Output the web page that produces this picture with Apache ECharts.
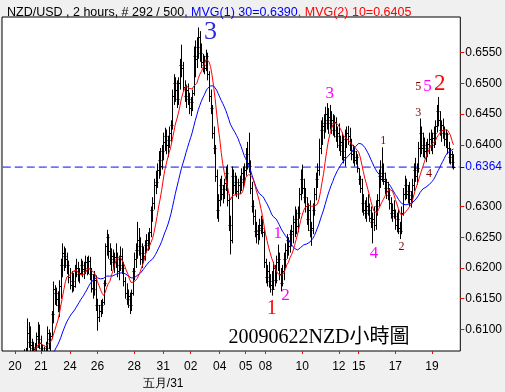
<!DOCTYPE html>
<html><head><meta charset="utf-8">
<script src="https://cdn.jsdelivr.net/npm/echarts@6/dist/echarts.min.js"></script>
<style>html,body{margin:0;padding:0;background:#f0f0f0}#c{width:505px;height:392px}</style>
</head><body><div id="c"></div>
<script>
// ---- data (NZD/USD 2-hour bars) ----
const high = [0.6007,0.6012,0.6004,0.5998,0.6008,0.6018,0.6014,0.6022,0.6028,0.6022,
0.6034,0.6044,0.6048,0.6058,0.6068,0.6070,0.6118,0.6112,0.6105,0.6085,
0.6080,0.6078,0.6095,0.6112,0.6108,0.6090,0.6075,0.6072,0.6080,0.6105,
0.6100,0.6095,0.6130,0.6178,0.6172,0.6168,0.6162,0.6180,0.6215,0.6240,
0.6235,0.6232,0.6225,0.6212,0.6200,0.6195,0.6192,0.6205,0.6215,0.6210,
0.6200,0.6215,0.6212,0.6210,0.6220,0.6218,0.6220,0.6218,0.6200,0.6190,
0.6195,0.6188,0.6150,0.6140,0.6148,0.6150,0.6180,0.6240,0.6262,0.6255,
0.6240,0.6232,0.6230,0.6225,0.6240,0.6225,0.6220,0.6235,0.6232,0.6210,
0.6185,0.6175,0.6165,0.6160,0.6165,0.6200,0.6225,0.6240,0.6275,0.6265,
0.6250,0.6240,0.6235,0.6245,0.6255,0.6258,0.6265,0.6300,0.6315,0.6345,
0.6358,0.6370,0.6390,0.6395,0.6400,0.6420,0.6428,0.6425,0.6415,0.6430,
0.6440,0.6490,0.6515,0.6510,0.6505,0.6510,0.6540,0.6563,0.6535,0.6505,
0.6498,0.6500,0.6485,0.6478,0.6490,0.6560,0.6570,0.6575,0.6591,0.6585,
0.6565,0.6548,0.6545,0.6555,0.6550,0.6520,0.6490,0.6465,0.6430,0.6400,
0.6360,0.6320,0.6345,0.6350,0.6335,0.6345,0.6365,0.6368,0.6320,0.6285,
0.6365,0.6360,0.6355,0.6350,0.6345,0.6350,0.6362,0.6365,0.6370,0.6395,
0.6405,0.6420,0.6375,0.6340,0.6310,0.6295,0.6275,0.6270,0.6280,0.6285,
0.6280,0.6262,0.6215,0.6205,0.6210,0.6190,0.6195,0.6210,0.6205,0.6220,
0.6238,0.6225,0.6200,0.6205,0.6225,0.6240,0.6255,0.6250,0.6262,0.6270,
0.6285,0.6300,0.6295,0.6300,0.6330,0.6360,0.6368,0.6345,0.6330,0.6315,
0.6305,0.6310,0.6275,0.6305,0.6330,0.6355,0.6370,0.6410,0.6440,0.6445,
0.6450,0.6462,0.6468,0.6460,0.6465,0.6455,0.6450,0.6448,0.6445,0.6430,
0.6435,0.6415,0.6420,0.6415,0.6425,0.6430,0.6431,0.6428,0.6410,0.6400,
0.6398,0.6390,0.6385,0.6362,0.6350,0.6345,0.6320,0.6310,0.6315,0.6320,
0.6305,0.6300,0.6290,0.6300,0.6310,0.6320,0.6360,0.6375,0.6396,0.6370,
0.6355,0.6345,0.6340,0.6330,0.6315,0.6305,0.6310,0.6295,0.6290,0.6295,
0.6275,0.6300,0.6330,0.6350,0.6345,0.6335,0.6340,0.6325,0.6345,0.6370,
0.6379,0.6370,0.6405,0.6443,0.6430,0.6420,0.6412,0.6405,0.6410,0.6420,
0.6425,0.6420,0.6430,0.6440,0.6465,0.6478,0.6455,0.6440,0.6443,0.6430,
0.6425,0.6420,0.6405,0.6395,0.6390,0.6385];

const low = [0.5985,0.5990,0.5980,0.5975,0.5985,0.5995,0.5990,0.6000,0.6005,0.5998,
0.6010,0.6020,0.6025,0.6035,0.6040,0.6050,0.6060,0.6070,0.6062,0.6062,
0.6060,0.6058,0.6065,0.6070,0.6068,0.6060,0.6055,0.6052,0.6055,0.6060,
0.6068,0.6065,0.6085,0.6110,0.6140,0.6138,0.6128,0.6120,0.6150,0.6185,
0.6195,0.6200,0.6190,0.6175,0.6165,0.6160,0.6162,0.6168,0.6185,0.6178,
0.6175,0.6188,0.6185,0.6182,0.6190,0.6188,0.6190,0.6180,0.6160,0.6150,
0.6155,0.6130,0.6098,0.6112,0.6120,0.6125,0.6140,0.6170,0.6220,0.6215,
0.6205,0.6195,0.6200,0.6192,0.6200,0.6185,0.6180,0.6195,0.6190,0.6170,
0.6150,0.6140,0.6135,0.6125,0.6130,0.6155,0.6180,0.6200,0.6215,0.6220,
0.6205,0.6200,0.6208,0.6212,0.6225,0.6228,0.6230,0.6250,0.6275,0.6295,
0.6320,0.6330,0.6345,0.6350,0.6360,0.6375,0.6390,0.6385,0.6380,0.6395,
0.6405,0.6425,0.6465,0.6470,0.6460,0.6465,0.6490,0.6510,0.6488,0.6470,
0.6460,0.6465,0.6450,0.6447,0.6455,0.6480,0.6510,0.6525,0.6540,0.6535,
0.6525,0.6518,0.6515,0.6520,0.6505,0.6470,0.6450,0.6410,0.6385,0.6340,
0.6280,0.6275,0.6300,0.6310,0.6305,0.6312,0.6325,0.6300,0.6260,0.6222,
0.6240,0.6320,0.6318,0.6315,0.6312,0.6320,0.6325,0.6330,0.6335,0.6350,
0.6360,0.6355,0.6320,0.6290,0.6270,0.6250,0.6240,0.6238,0.6245,0.6255,
0.6250,0.6200,0.6175,0.6170,0.6168,0.6160,0.6155,0.6165,0.6170,0.6175,
0.6195,0.6180,0.6162,0.6170,0.6180,0.6200,0.6215,0.6220,0.6225,0.6235,
0.6240,0.6250,0.6255,0.6258,0.6280,0.6310,0.6320,0.6305,0.6290,0.6270,
0.6260,0.6250,0.6236,0.6255,0.6285,0.6310,0.6330,0.6350,0.6385,0.6400,
0.6410,0.6420,0.6425,0.6418,0.6425,0.6418,0.6415,0.6412,0.6405,0.6395,
0.6390,0.6382,0.6375,0.6370,0.6365,0.6395,0.6400,0.6390,0.6375,0.6370,
0.6365,0.6368,0.6355,0.6335,0.6322,0.6290,0.6285,0.6280,0.6275,0.6285,
0.6275,0.6265,0.6240,0.6260,0.6262,0.6285,0.6300,0.6330,0.6340,0.6335,
0.6320,0.6312,0.6310,0.6295,0.6280,0.6275,0.6280,0.6262,0.6258,0.6255,
0.6247,0.6255,0.6285,0.6310,0.6312,0.6305,0.6300,0.6298,0.6305,0.6325,
0.6340,0.6335,0.6355,0.6380,0.6385,0.6380,0.6378,0.6372,0.6380,0.6385,
0.6390,0.6385,0.6395,0.6400,0.6420,0.6430,0.6415,0.6405,0.6410,0.6398,
0.6395,0.6385,0.6370,0.6368,0.6362,0.6360];

const close = [0.5995,0.6000,0.5990,0.5985,0.5995,0.6005,0.6000,0.6010,0.6015,0.6008,
0.6020,0.6030,0.6035,0.6045,0.6050,0.6062,0.6095,0.6080,0.6075,0.6070,
0.6068,0.6072,0.6090,0.6085,0.6078,0.6070,0.6062,0.6060,0.6070,0.6095,
0.6085,0.6090,0.6125,0.6165,0.6160,0.6150,0.6140,0.6170,0.6205,0.6225,
0.6220,0.6215,0.6205,0.6185,0.6172,0.6178,0.6170,0.6195,0.6200,0.6190,
0.6192,0.6205,0.6198,0.6195,0.6210,0.6200,0.6212,0.6190,0.6168,0.6165,
0.6180,0.6140,0.6120,0.6130,0.6140,0.6145,0.6175,0.6235,0.6250,0.6228,
0.6215,0.6220,0.6210,0.6218,0.6215,0.6195,0.6205,0.6220,0.6200,0.6178,
0.6160,0.6150,0.6155,0.6140,0.6160,0.6195,0.6215,0.6230,0.6245,0.6235,
0.6215,0.6225,0.6220,0.6238,0.6245,0.6240,0.6258,0.6295,0.6305,0.6335,
0.6340,0.6360,0.6375,0.6365,0.6390,0.6405,0.6415,0.6400,0.6408,0.6420,
0.6432,0.6480,0.6500,0.6490,0.6475,0.6500,0.6530,0.6525,0.6495,0.6480,
0.6490,0.6475,0.6460,0.6470,0.6485,0.6545,0.6540,0.6560,0.6575,0.6550,
0.6535,0.6530,0.6525,0.6545,0.6515,0.6480,0.6460,0.6420,0.6395,0.6350,
0.6295,0.6310,0.6335,0.6320,0.6328,0.6338,0.6355,0.6310,0.6270,0.6245,
0.6350,0.6335,0.6340,0.6325,0.6335,0.6340,0.6355,0.6345,0.6360,0.6385,
0.6370,0.6365,0.6330,0.6300,0.6285,0.6260,0.6255,0.6262,0.6270,0.6265,
0.6258,0.6210,0.6185,0.6195,0.6178,0.6172,0.6165,0.6200,0.6180,0.6210,
0.6215,0.6190,0.6175,0.6195,0.6215,0.6230,0.6245,0.6235,0.6255,0.6260,
0.6275,0.6280,0.6268,0.6290,0.6320,0.6345,0.6330,0.6315,0.6300,0.6280,
0.6295,0.6262,0.6265,0.6295,0.6320,0.6345,0.6360,0.6395,0.6425,0.6430,
0.6435,0.6450,0.6440,0.6445,0.6435,0.6440,0.6425,0.6438,0.6415,0.6420,
0.6400,0.6405,0.6390,0.6380,0.6410,0.6420,0.6415,0.6400,0.6385,0.6390,
0.6375,0.6380,0.6362,0.6345,0.6330,0.6305,0.6295,0.6290,0.6300,0.6295,
0.6282,0.6275,0.6280,0.6270,0.6300,0.6310,0.6350,0.6345,0.6355,0.6342,
0.6330,0.6325,0.6318,0.6305,0.6290,0.6295,0.6285,0.6270,0.6280,0.6265,
0.6260,0.6290,0.6320,0.6335,0.6320,0.6325,0.6312,0.6318,0.6335,0.6360,
0.6350,0.6362,0.6395,0.6420,0.6395,0.6400,0.6390,0.6395,0.6402,0.6410,
0.6400,0.6412,0.6420,0.6430,0.6455,0.6440,0.6425,0.6432,0.6420,0.6410,
0.6418,0.6395,0.6380,0.6385,0.6372,0.6364];

// x-axis tick labels (bar index -> label)
const tickIdx = [8, 25, 44, 62, 86, 105, 123, 142, 159, 172, 196, 220, 233, 257, 281];
const tickLabels = ['20','21','24','26','28','31\n五月/31','02','04','05','08','10','12','15','17','19'];
// y-axis tick labels
const yTicks = [0.6100,0.6150,0.6200,0.6250,0.6300,0.6400,0.6450,0.6500,0.6550];
// wave annotations: text, bar index, price, style kind
const notes = [
  ['3',136,0.6584,'bigBlue'],
  ['3',214,0.6483,'mag'],
  ['5',272,0.6495,'smallRed'],
  ['5',278,0.6495,'mag'],
  ['2',286,0.6499,'bigRed'],
  ['3',272,0.6452,'smallRed'],
  ['1',249,0.6406,'smallRed'],
  ['4',279,0.6353,'smallRed'],
  ['1',180,0.6256,'mag'],
  ['1',176,0.6134,'midRed'],
  ['2',185,0.6155,'mag'],
  ['4',243,0.6224,'mag'],
  ['2',261,0.6235,'smallRed'],
  ['20090622NZD小時圖',207,0.6087,'caption']
];

// ---- presentation ----
const slotCount = 300;
const sans = "'Liberation Sans Narrow', 'Liberation Sans', Arial, sans-serif";
const serif = "'Liberation Serif','Noto Sans CJK TC', serif";
const noteStyle = {
  bigBlue:{color:'#2a2ae0',fontSize:26},
  bigRed:{color:'#ff0000',fontSize:23},
  midRed:{color:'#ff0000',fontSize:20},
  mag:{color:'#ff00ff',fontSize:17},
  smallRed:{color:'#800000',fontSize:12},
  caption:{color:'#000000',fontSize:20}
};
const cats = Array.from({length: slotCount}, (_, i) => {
  const k = tickIdx.indexOf(i); return k >= 0 ? tickLabels[k] : '';
});
const ohlc = close.map((c, i) => [i, high[i], low[i], c, i ? close[i-1] : c]);
function ma(n){
  return close.map((_, i) => {
    if (i < n - 1) return null;
    let s = 0; for (let k = i - n + 1; k <= i; k++) s += close[k];
    return s / n;
  });
}
const last = close[close.length - 1];
const lastLine = cats.map(() => last);
const showIdx = (idx) => tickIdx.indexOf(idx) >= 0;
const fs = 12;
const tfs = 12.5;

const chart = echarts.init(document.getElementById('c'), null, {renderer:'canvas'});
chart.setOption({
  animation:false,
  backgroundColor:'#f0f0f0',
  title:{
    left:2, top:1,
    text:'{k|NZD/USD , 2 hours, # 292 / 500}{b|, MVG(1) 30=0.6390}{r|, MVG(2) 10=0.6405}',
    textStyle:{fontSize:tfs,fontWeight:'normal',fontFamily:sans,
      rich:{k:{color:'#000',fontSize:tfs,fontFamily:sans},
            b:{color:'#0000ff',fontSize:tfs,fontFamily:sans},
            r:{color:'#ff0000',fontSize:tfs,fontFamily:sans}}}
  },
  grid:{left:2,right:42,top:17,bottom:37,show:true,backgroundColor:'#ffffff',borderColor:'#000',borderWidth:1},
  xAxis:{
    type:'category', data:cats, boundaryGap:true,
    axisLine:{show:false},
    axisTick:{show:true,alignWithLabel:true,interval:showIdx,length:3,lineStyle:{color:'#ff0000'}},
    axisLabel:{interval:showIdx,color:'#000',fontSize:fs,fontFamily:sans,margin:7,lineHeight:17},
    splitLine:{show:false}
  },
  yAxis:[
    {type:'value',position:'right',min:0.6065,max:0.6608,
     axisLine:{show:false},splitLine:{show:false},
     axisTick:{show:true,length:4,customValues:yTicks,lineStyle:{color:'#ff0000'}},
     axisLabel:{customValues:yTicks,formatter:v=>v.toFixed(4),color:'#000',fontSize:fs,fontFamily:sans,margin:5}},
    {type:'value',position:'right',min:0.6065,max:0.6608,
     axisLine:{show:false},splitLine:{show:false},
     axisTick:{show:true,length:4,customValues:[last],lineStyle:{color:'#0000ff'}},
     axisLabel:{customValues:[last],formatter:v=>v.toFixed(4),color:'#0000ff',fontSize:fs,fontFamily:sans,margin:5}}
  ],
  series:[
    {
      type:'line', name:'last', data:lastLine, symbol:'none', showSymbol:false, silent:true,
      lineStyle:{color:'#0000ff',width:1,type:[8,4]}, z:1
    },
    {
      type:'custom', data:ohlc, encode:{x:0,y:[1,2,3,4]},
      renderItem:(params, api) => {
        const i = api.value(0);
        const cs = params.coordSys;
        const top = cs.y, bot = cs.y + cs.height;
        const ph = api.coord([i, api.value(1)]);
        const pl = api.coord([i, api.value(2)]);
        if (ph[1] > bot || pl[1] < top) return;
        const pc = api.coord([i, api.value(3)]);
        const po = api.coord([i, api.value(4)]);
        const x = Math.round(ph[0]) + 0.5;
        const st = {stroke:'#000',lineWidth:1};
        const kids = [{type:'line',shape:{x1:x,y1:Math.max(ph[1],top),x2:x,y2:Math.min(pl[1],bot)},style:st}];
        const yc = Math.round(pc[1]) + 0.5;
        if (yc >= top && yc <= bot) kids.push({type:'line',shape:{x1:x,y1:yc,x2:x+2,y2:yc},style:st});
        const yo = Math.round(po[1]) + 0.5;
        if (yo >= top && yo <= bot) kids.push({type:'line',shape:{x1:x-2,y1:yo,x2:x,y2:yo},style:st});
        return {type:'group',children:kids};
      },
      z:2
    },
    {
      type:'line', name:'MVG30', data:ma(30), symbol:'none', showSymbol:false, clip:true,
      lineStyle:{color:'#0000ff',width:1}, z:3,
      markPoint:{
        silent:true,
        data:notes.map(n => ({
          coord:[n[1], n[2]], symbol:'circle', symbolSize:1,
          itemStyle:{color:'rgba(0,0,0,0)'},
          label:{show:true,position:'inside',formatter:n[0],fontFamily:serif,
                 color:noteStyle[n[3]].color,fontSize:noteStyle[n[3]].fontSize}
        }))
      }
    },
    {
      type:'line', name:'MVG10', data:ma(10), symbol:'none', showSymbol:false, clip:true,
      lineStyle:{color:'#ff0000',width:1}, z:4
    }
  ]
});
</script>
</body></html>
